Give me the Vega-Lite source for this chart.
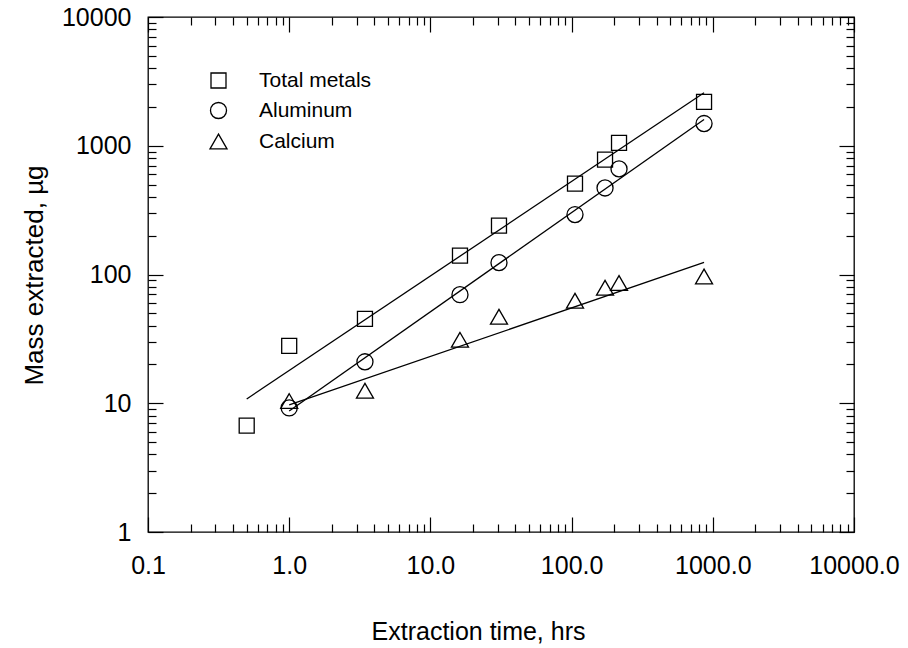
{
  "$schema": "https://vega.github.io/schema/vega-lite/v6.json",
  "width": 706,
  "height": 515,
  "autosize": "none",
  "padding": {"left": 148, "top": 17, "right": 54, "bottom": 116},
  "background": "white",
  "config": {
    "view": {"stroke": "black", "strokeWidth": 1.3},
    "font": "Liberation Sans",
    "axis": {
      "domain": false,
      "grid": false,
      "tickColor": "black",
      "tickWidth": 1.2,
      "labelColor": "black",
      "titleColor": "black",
      "labelFont": "Liberation Sans",
      "titleFont": "Liberation Sans",
      "labelFontSize": 25,
      "labelFontWeight": "normal",
      "titleFontWeight": "normal",
      "labelOverlap": false,
      "labelBound": false,
      "labelFlush": false
    },
    "legend": {
      "labelFont": "Liberation Sans",
      "labelFontSize": 21,
      "labelColor": "black",
      "symbolStrokeColor": "black",
      "symbolFillColor": "transparent",
      "symbolStrokeWidth": 1.3,
      "rowPadding": 8,
      "labelOffset": 30,
      "padding": 0
    }
  },
  "datasets": {
    "points": [
      {"series": "Total metals", "time": 0.5, "mass": 6.7},
      {"series": "Total metals", "time": 1.0, "mass": 27.9},
      {"series": "Total metals", "time": 3.44, "mass": 45.3},
      {"series": "Total metals", "time": 16.2, "mass": 140},
      {"series": "Total metals", "time": 30.6, "mass": 240},
      {"series": "Total metals", "time": 105.7, "mass": 508},
      {"series": "Total metals", "time": 172.5, "mass": 781},
      {"series": "Total metals", "time": 216.7, "mass": 1054},
      {"series": "Total metals", "time": 867, "mass": 2194},
      {"series": "Aluminum", "time": 1.0, "mass": 9.2},
      {"series": "Aluminum", "time": 3.44, "mass": 21},
      {"series": "Aluminum", "time": 16.2, "mass": 69.7},
      {"series": "Aluminum", "time": 30.6, "mass": 123.6},
      {"series": "Aluminum", "time": 105.7, "mass": 292},
      {"series": "Aluminum", "time": 172.5, "mass": 470},
      {"series": "Aluminum", "time": 216.7, "mass": 661},
      {"series": "Aluminum", "time": 867, "mass": 1488},
      {"series": "Calcium", "time": 1.0, "mass": 10.4},
      {"series": "Calcium", "time": 3.44, "mass": 12.5},
      {"series": "Calcium", "time": 16.2, "mass": 31.1},
      {"series": "Calcium", "time": 30.6, "mass": 47},
      {"series": "Calcium", "time": 105.7, "mass": 62.5},
      {"series": "Calcium", "time": 172.5, "mass": 79},
      {"series": "Calcium", "time": 216.7, "mass": 86},
      {"series": "Calcium", "time": 867, "mass": 96.5}
    ],
    "fits": [
      {"series": "Total metals", "time": 0.5, "mass": 10.8},
      {"series": "Total metals", "time": 867, "mass": 2578},
      {"series": "Aluminum", "time": 1.0, "mass": 8.7},
      {"series": "Aluminum", "time": 867, "mass": 1598},
      {"series": "Calcium", "time": 1.0, "mass": 9.7},
      {"series": "Calcium", "time": 867, "mass": 124}
    ]
  },
  "layer": [
    {
      "data": {"name": "points"},
      "mark": {"type": "point", "filled": false, "color": "black", "strokeWidth": 1.3, "opacity": 1},
      "encoding": {
        "x": {
          "field": "time", "type": "quantitative",
          "scale": {"type": "log", "domain": [0.1, 10000], "nice": false},
          "axis": {
            "orient": "bottom",
            "values": [0.1,0.2,0.3,0.4,0.5,0.6,0.7,0.8,0.9,1,2,3,4,5,6,7,8,9,10,20,30,40,50,60,70,80,90,100,200,300,400,500,600,700,800,900,1000,2000,3000,4000,5000,6000,7000,8000,9000,10000],
            "tickSize": {"condition": {"test": "abs(log(datum.value)/LN10 - round(log(datum.value)/LN10)) < 0.001", "value": -15}, "value": -8},
            "labelExpr": "abs(log(datum.value)/LN10 - round(log(datum.value)/LN10)) < 0.001 ? format(datum.value, '.1f') : ''",
            "labelPadding": 36,
            "title": "Extraction time, hrs",
            "titleFontSize": 25,
            "titleX": 330,
            "titleY": 107,
            "titleBaseline": "alphabetic",
            "titleAlign": "center",
            "titleAnchor": null
          }
        },
        "y": {
          "field": "mass", "type": "quantitative",
          "scale": {"type": "log", "domain": [1, 10000], "nice": false},
          "axis": {
            "orient": "left",
            "values": [1,2,3,4,5,6,7,8,9,10,20,30,40,50,60,70,80,90,100,200,300,400,500,600,700,800,900,1000,2000,3000,4000,5000,6000,7000,8000,9000,10000],
            "tickSize": {"condition": {"test": "abs(log(datum.value)/LN10 - round(log(datum.value)/LN10)) < 0.001", "value": -15}, "value": -8},
            "labelExpr": "abs(log(datum.value)/LN10 - round(log(datum.value)/LN10)) < 0.001 ? format(datum.value, '.0f') : ''",
            "labelPadding": 32,
            "title": "Mass extracted, µg",
            "titleFontSize": 26,
            "titleX": -106,
            "titleY": 258,
            "titleBaseline": "alphabetic",
            "titleAlign": "center",
            "titleAngle": -90
          }
        },
        "shape": {
          "field": "series", "type": "nominal",
          "scale": {"domain": ["Total metals", "Aluminum", "Calcium"], "range": ["square", "circle", "triangle-up"]},
          "legend": {"orient": "none", "legendX": 60, "legendY": 53, "title": null}
        },
        "size": {
          "field": "series", "type": "nominal",
          "scale": {"domain": ["Total metals", "Aluminum", "Calcium"], "range": [225, 290, 330]},
          "legend": {"orient": "none", "legendX": 60, "legendY": 53, "title": null}
        }
      }
    },
    {
      "data": {"name": "fits"},
      "mark": {"type": "line", "color": "black", "strokeWidth": 1.3},
      "encoding": {
        "x": {
          "field": "time", "type": "quantitative",
          "scale": {"type": "log", "domain": [0.1, 10000], "nice": false},
          "axis": {
            "orient": "top",
            "values": [0.1,0.2,0.3,0.4,0.5,0.6,0.7,0.8,0.9,1,2,3,4,5,6,7,8,9,10,20,30,40,50,60,70,80,90,100,200,300,400,500,600,700,800,900,1000,2000,3000,4000,5000,6000,7000,8000,9000,10000],
            "tickSize": {"condition": {"test": "abs(log(datum.value)/LN10 - round(log(datum.value)/LN10)) < 0.001", "value": -15}, "value": -8},
            "labels": false,
            "title": null
          }
        },
        "y": {
          "field": "mass", "type": "quantitative",
          "scale": {"type": "log", "domain": [1, 10000], "nice": false},
          "axis": {
            "orient": "right",
            "values": [1,2,3,4,5,6,7,8,9,10,20,30,40,50,60,70,80,90,100,200,300,400,500,600,700,800,900,1000,2000,3000,4000,5000,6000,7000,8000,9000,10000],
            "tickSize": {"condition": {"test": "abs(log(datum.value)/LN10 - round(log(datum.value)/LN10)) < 0.001", "value": -15}, "value": -8},
            "labels": false,
            "title": null
          }
        },
        "detail": {"field": "series", "type": "nominal"}
      }
    }
  ],
  "resolve": {"axis": {"x": "independent", "y": "independent"}}
}
